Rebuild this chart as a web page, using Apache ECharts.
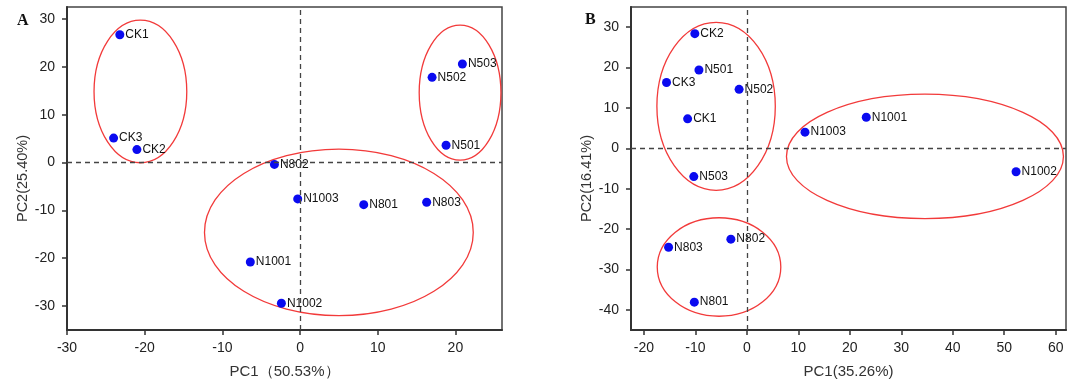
<!DOCTYPE html>
<html>
<head>
<meta charset="utf-8">
<title>PCA</title>
<script src="https://cdn.jsdelivr.net/npm/echarts@6/dist/echarts.min.js"></script>
<style>
  html, body { margin: 0; padding: 0; background: #fff; }
  #chart { width: 1077px; height: 385px; }
</style>
</head>
<body>
<div id="chart"></div>
<script>
// sample names (same order for both panels)
const samples = ['CK1', 'CK2', 'CK3', 'N501', 'N502', 'N503', 'N801', 'N802', 'N803', 'N1001', 'N1002', 'N1003']

// panel A scores
const pc1A = [-23.2, -21.0, -24.0, 18.8, 17.0, 20.9, 8.2, -3.3, 16.3, -6.4, -2.4, -0.3]
const pc2A = [26.7, 2.7, 5.1, 3.6, 17.8, 20.6, -8.8, -0.4, -8.3, -20.8, -29.4, -7.6]
// panel B scores
const pc1B = [-11.5, -10.1, -15.6, -9.3, -1.5, -10.3, -10.2, -3.1, -15.2, 23.2, 52.3, 11.3]
const pc2B = [7.3, 28.4, 16.3, 19.4, 14.6, -7.0, -38.1, -22.5, -24.5, 7.7, -5.8, 4.0]

// group ellipses: [centerX, centerY, radiusX, radiusY] in data units
const ellipsesA = [[-20.55, 14.85, 5.97, 14.9], [20.6, 14.6, 5.26, 14.1], [5.0, -14.6, 17.3, 17.4]]
const ellipsesB = [[-5.97, 10.4, 11.5, 20.8], [-5.4, -29.4, 12.0, 12.2], [34.6, -2.0, 26.9, 15.4]]

// tick labels
const xTicksA = [-30, -20, -10, 0, 10, 20]
const yTicksA = [-30, -20, -10, 0, 10, 20, 30]
const xTicksB = [-20, -10, 0, 10, 20, 30, 40, 50, 60]
const yTicksB = [-40, -30, -20, -10, 0, 10, 20, 30]

const axisTitles = {
  xA: 'PC1（50.53%）', yA: 'PC2(25.40%)',
  xB: 'PC1(35.26%)', yB: 'PC2(16.41%)',
}

const font = "'Liberation Sans', Arial, sans-serif"

function makeAxis(gridIndex, min, max, ticks, title, isY) {
  return {
    type: 'value',
    gridIndex,
    min,
    max,
    name: title,
    nameLocation: 'middle',
    nameGap: isY ? 37 : 34,
    nameTextStyle: {
      fontFamily: font,
      fontSize: isY ? 14.5 : 15,
      color: '#333',
      // y titles sit a little below the middle of the axis
      padding: isY ? [0, 20, 0, 0] : 0,
    },
    axisLine: { show: true, onZero: false, lineStyle: { color: '#333', width: 2 } },
    axisTick: { show: true, inside: false, length: 5, customValues: ticks, lineStyle: { color: '#333', width: 1.5 } },
    axisLabel: { customValues: ticks, fontFamily: font, fontSize: 14, color: '#222', margin: isY ? 12 : 11 },
    splitLine: { show: false },
  }
}

function scatterSeries(idx, xs, ys) {
  return {
    type: 'scatter',
    xAxisIndex: idx,
    yAxisIndex: idx,
    symbolSize: 9,
    itemStyle: { color: '#0a0af0', opacity: 1 },
    data: samples.map((s, i) => [xs[i], ys[i], s]),
    label: {
      show: true,
      position: 'right',
      distance: 1,
      formatter: p => p.value[2],
      fontFamily: font,
      fontSize: 12,
      color: '#111',
    },
    markLine: {
      silent: true,
      symbol: 'none',
      animation: false,
      label: { show: false },
      lineStyle: { color: '#444', type: [5, 4], width: 1.3 },
      data: [{ xAxis: 0 }, { yAxis: 0 }],
    },
    z: 3,
  }
}

function ellipseSeries(idx, list) {
  return {
    type: 'custom',
    xAxisIndex: idx,
    yAxisIndex: idx,
    silent: true,
    encode: { x: 0, y: 1 },
    data: list,
    renderItem: (params, api) => {
      const c = api.coord([api.value(0), api.value(1)])
      const s = api.size([api.value(2), api.value(3)])
      return {
        type: 'ellipse',
        shape: { cx: c[0], cy: c[1], rx: s[0], ry: s[1] },
        style: { fill: 'none', stroke: '#f23a3a', lineWidth: 1.3 },
      }
    },
    z: 2,
  }
}

const chart = echarts.init(document.getElementById('chart'))

chart.setOption({
  animation: false,
  backgroundColor: '#fff',
  grid: [
    { left: 67, top: 7, right: 575, bottom: 55, show: true, borderColor: '#444', borderWidth: 1.5 },
    { left: 631, top: 7, right: 11, bottom: 55, show: true, borderColor: '#444', borderWidth: 1.5 },
  ],
  xAxis: [
    makeAxis(0, -30, 26, xTicksA, axisTitles.xA, false),
    makeAxis(1, -22.5, 62, xTicksB, axisTitles.xB, false),
  ],
  yAxis: [
    makeAxis(0, -35, 32.5, yTicksA, axisTitles.yA, true),
    makeAxis(1, -45, 35, yTicksB, axisTitles.yB, true),
  ],
  graphic: [
    { type: 'text', left: 17, top: 13, style: { text: 'A', fontFamily: "'Liberation Serif', serif", fontWeight: 'bold', fontSize: 16, fill: '#111' } },
    { type: 'text', left: 585, top: 12, style: { text: 'B', fontFamily: "'Liberation Serif', serif", fontWeight: 'bold', fontSize: 16, fill: '#111' } },
  ],
  series: [
    ellipseSeries(0, ellipsesA),
    scatterSeries(0, pc1A, pc2A),
    ellipseSeries(1, ellipsesB),
    scatterSeries(1, pc1B, pc2B),
  ],
})
</script>
</body>
</html>
